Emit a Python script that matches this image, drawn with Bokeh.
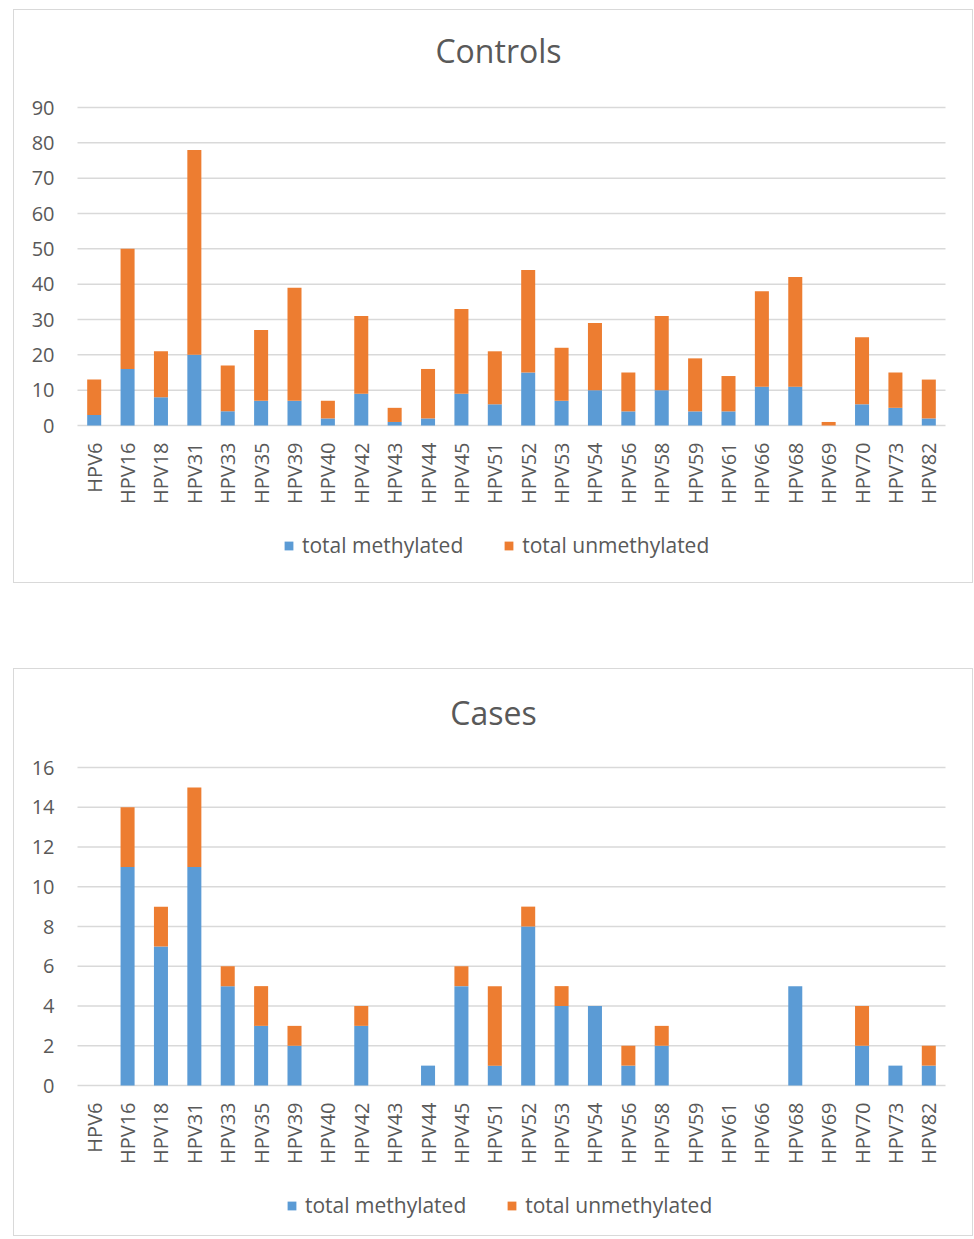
import math
from bokeh.plotting import figure
from bokeh.models import Range1d, Legend, LegendItem, ColumnDataSource
from bokeh.core.properties import value
from bokeh.layouts import column
from bokeh.embed import file_html
from bokeh.resources import INLINE

hpv_types = ["HPV6", "HPV16", "HPV18", "HPV31", "HPV33", "HPV35", "HPV39", "HPV40",
             "HPV42", "HPV43", "HPV44", "HPV45", "HPV51", "HPV52", "HPV53", "HPV54",
             "HPV56", "HPV58", "HPV59", "HPV61", "HPV66", "HPV68", "HPV69", "HPV70",
             "HPV73", "HPV82"]

controls_methylated = [3, 16, 8, 20, 4, 7, 7, 2, 9, 1, 2, 9, 6, 15, 7, 10, 4, 10, 4, 4, 11, 11, 0, 6, 5, 2]
controls_unmethylated = [10, 34, 13, 58, 13, 20, 32, 5, 22, 4, 14, 24, 15, 29, 15, 19, 11, 21, 15, 10, 27, 31, 1, 19, 10, 11]
controls_ticks = [0, 10, 20, 30, 40, 50, 60, 70, 80, 90]

cases_methylated = [0, 11, 7, 11, 5, 3, 2, 0, 3, 0, 1, 5, 1, 8, 4, 4, 1, 2, 0, 0, 0, 5, 0, 2, 1, 1]
cases_unmethylated = [0, 3, 2, 4, 1, 2, 1, 0, 1, 0, 0, 1, 4, 1, 1, 0, 1, 1, 0, 0, 0, 0, 0, 2, 0, 1]
cases_ticks = [0, 2, 4, 6, 8, 10, 12, 14, 16]

series_labels = ["total methylated", "total unmethylated"]
series_colors = ["#5B9BD5", "#ED7D31"]

FONT = value("Open Sans")
GREY = "#595959"
GRID = "#d9d9d9"


def make_chart(title, meth, unmeth, ticks, height, top, bottom, title_gap,
               title_center_px, legend_x, legend_y):
    W, left, right = 958, 63, 27
    n = len(hpv_types)
    ux = (W - left - right) / n
    ymax = ticks[-1]
    uy = (height - top - bottom) / ymax

    p = figure(width=W, height=height,
               x_range=Range1d(-left / ux, n + right / ux),
               y_range=Range1d(-bottom / uy, ymax + top / uy),
               x_axis_location=None, y_axis_location=None,
               min_border=0, output_backend="svg", toolbar_location=None)
    p.outline_line_color = None
    p.grid.visible = False

    # horizontal gridlines at tick values
    p.segment(x0=[0] * len(ticks), x1=[n] * len(ticks), y0=ticks, y1=ticks,
              line_color=GRID, line_width=1.5)

    xs = [i + 0.5 for i in range(n)]
    src = ColumnDataSource(dict(x=xs, meth=meth, unmeth=unmeth))
    rs = p.vbar_stack(["meth", "unmeth"], x="x", width=0.42,
                      fill_color=series_colors, line_color=None, source=src)

    # y tick labels
    p.text(x=[-23 / ux] * len(ticks), y=ticks, text=[str(t) for t in ticks],
           text_font=FONT, text_font_size="20px", text_color=GREY,
           text_align="right", text_baseline="middle")

    # x category labels (vertical)
    p.text(x=xs, y=[-17 / uy] * n, text=hpv_types, angle=math.pi / 2,
           text_font=FONT, text_font_size="20px", text_color=GREY,
           text_align="right", text_baseline="middle")

    # title, centred on the box
    p.text(x=[(title_center_px - left) / ux], y=[ymax + title_gap / uy], text=[title],
           text_font=FONT, text_font_size="32px", text_color=GREY,
           text_align="center", text_baseline="middle")

    legend = Legend(items=[LegendItem(label=series_labels[i], renderers=[rs[i]])
                           for i in range(2)],
                    orientation="horizontal", location=(legend_x, legend_y))
    legend.label_text_font = "Open Sans"
    legend.label_text_font_size = "21px"
    legend.label_text_color = GREY
    legend.glyph_width = 11
    legend.glyph_height = 11
    legend.label_standoff = 8
    legend.spacing = 40
    legend.padding = 0
    legend.margin = 0
    legend.border_line_color = None
    legend.background_fill_alpha = 0
    p.add_layout(legend)
    return p


p1 = make_chart("Controls", controls_methylated, controls_unmethylated,
                controls_ticks, 572, 97, 157, 57, 484, 269, 23)
p2 = make_chart("Cases", cases_methylated, cases_unmethylated,
                cases_ticks, 566, 98, 150, 55, 479, 272, 16)

box1 = column(p1, styles={"border": "1px solid #d9d9d9"}, margin=(9, 0, 0, 13))
box2 = column(p2, styles={"border": "1px solid #d9d9d9"}, margin=(85, 0, 0, 13))

layout = column(box1, box2)
open("out.html", "w").write(file_html(layout, INLINE))
